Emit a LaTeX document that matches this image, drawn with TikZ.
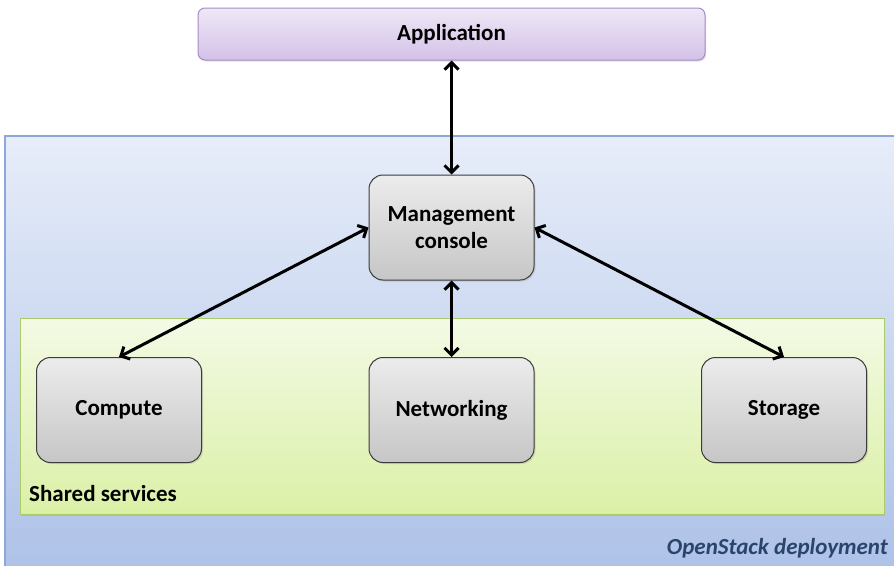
\documentclass[tikz,border=0pt]{standalone}
\usepackage{fontspec}
\setmainfont{Carlito}
\usetikzlibrary{arrows.meta,shadows}

\definecolor{appTop}{HTML}{EFE8F6}
\definecolor{appBot}{HTML}{D3C1E8}
\definecolor{appLine}{HTML}{A88CC8}
\definecolor{osTop}{HTML}{E7EDF9}
\definecolor{osBot}{HTML}{AEC2E8}
\definecolor{osLine}{HTML}{8CA8D8}
\definecolor{ssTop}{HTML}{F3FAE5}
\definecolor{ssBot}{HTML}{DBF0A6}
\definecolor{ssLine}{HTML}{A9CB6C}
\definecolor{boxTop}{HTML}{ECECEC}
\definecolor{boxBot}{HTML}{C6C6C6}
\definecolor{boxLine}{HTML}{3C3C3C}
\definecolor{osText}{HTML}{2B446B}

\tikzset{
  x=1pt, y=-1pt,
  lbl/.style={font=\fontsize{23}{27}\selectfont\bfseries},
  svcbox/.style={lbl, draw=boxLine, line width=1pt, rounded corners=14pt,
    top color=boxTop, bottom color=boxBot,
    drop shadow={shadow xshift=1.5pt, shadow yshift=-1.5pt, opacity=0.25},
    minimum width=165pt, minimum height=105pt, align=center},
  link/.style={line width=3pt, {Straight Barb[length=7pt,width=14pt]}-{Straight Barb[length=7pt,width=14pt]}},
}

\begin{document}
\begin{tikzpicture}
\useasboundingbox (0,0) rectangle (894,565);
\fill[white] (0,0) rectangle (894,565);

% OpenStack deployment region
\path[draw=osLine, line width=1.2pt, top color=osTop, bottom color=osBot]
  (5,136) rectangle (897,568);
% Shared services region
\path[draw=ssLine, line width=1pt, top color=ssTop, bottom color=ssBot,
  drop shadow={shadow xshift=1pt, shadow yshift=-1.5pt, opacity=0.2}]
  (20,318) rectangle (884,514);

% Application bar
\node[lbl, draw=appLine, line width=1pt, rounded corners=7pt,
  top color=appTop, bottom color=appBot,
  drop shadow={shadow xshift=1pt, shadow yshift=-1.5pt, opacity=0.25},
  minimum width=507pt, minimum height=52pt] (app) at (451.5,34) {Application};

% Service boxes
\node[svcbox] (mgmt) at (451.5,227.5) {Management\\console};
\node[svcbox] (compute) at (119,410) {Compute};
\node[svcbox] (net) at (451.5,410) {Networking};
\node[svcbox] (store) at (784,410) {Storage};

% Region labels
\node[lbl, anchor=base west, inner sep=0pt] (shared) at (29,501) {Shared services};
\node[lbl, anchor=base east, font=\fontsize{23}{27}\selectfont\bfseries\itshape,
  text=osText, inner sep=0pt] (osdep) at (888,554) {OpenStack deployment};

% Connectors
\draw[link] (app.south) -- (mgmt.north);
\draw[link] (mgmt.south) -- (net.north);
\draw[link] (mgmt.west) -- (compute.north);
\draw[link] (mgmt.east) -- (store.north);
\end{tikzpicture}
\end{document}
